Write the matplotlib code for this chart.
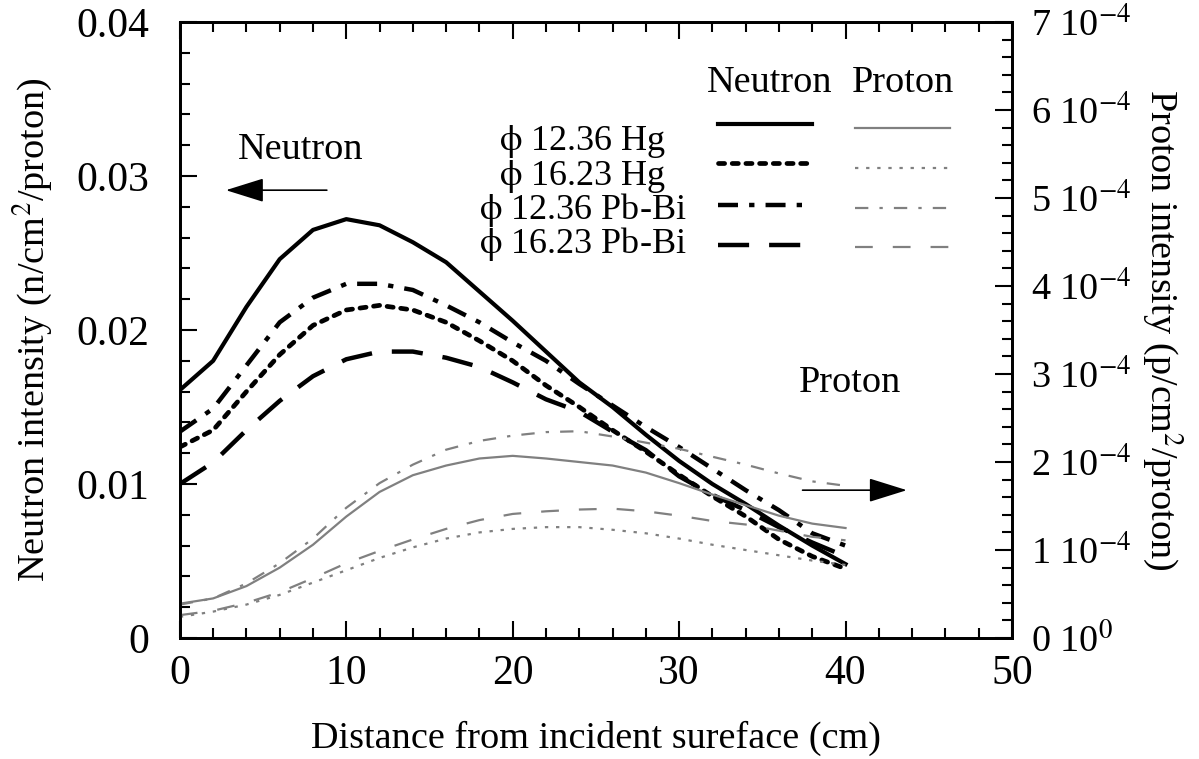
import numpy as np
import matplotlib.pyplot as plt
from matplotlib.lines import Line2D
from matplotlib.ticker import MultipleLocator, FixedLocator

plt.rcParams['font.family'] = ['Liberation Serif', 'DejaVu Serif']
plt.rcParams['mathtext.fontset'] = 'stix'

# depth along the target (cm)
depth = [0, 2, 4, 6, 8, 10, 12, 14, 16, 18, 20, 22, 24, 26, 28, 30, 32, 34, 36, 38, 40]

# neutron intensity (n/cm2/proton)
n_hg_1236 = [0.0161, 0.0180, 0.0215, 0.0246, 0.0265, 0.0272, 0.0268, 0.0257, 0.0244, 0.0225,
             0.0206, 0.0186, 0.0166, 0.0150, 0.0132, 0.0115, 0.0100, 0.0087, 0.0073, 0.0060, 0.0048]
n_hg_1623 = [0.0124, 0.0135, 0.0160, 0.0184, 0.0203, 0.0213, 0.0216, 0.0213, 0.0205, 0.0193,
             0.0180, 0.0164, 0.0150, 0.0135, 0.0121, 0.0106, 0.0092, 0.0079, 0.0064, 0.0053, 0.0045]
n_pbbi_1236 = [0.0134, 0.0149, 0.0177, 0.0205, 0.0221, 0.0230, 0.0230, 0.0226, 0.0216, 0.0205,
               0.0192, 0.0180, 0.0165, 0.0151, 0.0137, 0.0124, 0.0110, 0.0096, 0.0083, 0.0068, 0.0060]
n_pbbi_1623 = [0.0100, 0.0114, 0.0135, 0.0154, 0.0170, 0.0181, 0.0186, 0.0186, 0.0182, 0.0176,
               0.0166, 0.0155, 0.0147, 0.0134, 0.0122, 0.0105, 0.0093, 0.0083, 0.0072, 0.0062, 0.0053]

# proton intensity (1e-4 p/cm2/proton)
p_hg_1236 = [0.39, 0.45, 0.59, 0.80, 1.06, 1.38, 1.66, 1.85, 1.96, 2.04,
             2.07, 2.04, 2.00, 1.96, 1.88, 1.76, 1.63, 1.51, 1.39, 1.30, 1.25]
p_hg_1623 = [0.24, 0.30, 0.38, 0.49, 0.63, 0.77, 0.91, 1.03, 1.13, 1.20,
             1.24, 1.26, 1.26, 1.23, 1.19, 1.13, 1.06, 1.00, 0.94, 0.88, 0.83]
p_pbbi_1236 = [0.38, 0.45, 0.62, 0.85, 1.13, 1.48, 1.76, 1.97, 2.14, 2.24,
               2.30, 2.34, 2.35, 2.29, 2.22, 2.15, 2.06, 1.97, 1.87, 1.78, 1.73]
p_pbbi_1623 = [0.26, 0.31, 0.40, 0.52, 0.68, 0.85, 0.99, 1.12, 1.24, 1.34,
               1.41, 1.44, 1.46, 1.47, 1.44, 1.39, 1.33, 1.29, 1.22, 1.15, 1.11]

labels = ['$\\mathrm{\\phi}$ 12.36 Hg', '$\\mathrm{\\phi}$ 16.23 Hg',
          '$\\mathrm{\\phi}$ 12.36 Pb-Bi', '$\\mathrm{\\phi}$ 16.23 Pb-Bi']
left_ticks = [0, 0.01, 0.02, 0.03, 0.04]
left_tick_labels = ['0', '0.01', '0.02', '0.03', '0.04']
right_tick_labels = ['0 10$^{0}$'] + ['%d 10$^{-4}$' % i for i in range(1, 8)]

n_styles = [dict(ls='-', lw=3.0),
            dict(ls=(0, (1.3, 1.6)), lw=3.4, dash_capstyle='round'),
            dict(ls=(0, (4.5, 2.5, 1.2, 2.5)), lw=3.2),
            dict(ls=(0, (7, 4.5)), lw=3.2)]
p_styles = [dict(ls='-', lw=1.6),
            dict(ls=(0, (1.5, 3.5)), lw=1.6),
            dict(ls=(0, (6, 5, 1.5, 5)), lw=1.6),
            dict(ls=(0, (8, 9)), lw=1.6)]
p_color = '0.5'
fs = 27.5

fig = plt.figure(figsize=(11.99, 7.59), dpi=100)
ax = fig.add_axes([0.150, 0.1594, 0.694, 0.8116])
ax2 = ax.twinx()

neutrons = [n_hg_1236, n_hg_1623, n_pbbi_1236, n_pbbi_1623]
protons = [p_hg_1236, p_hg_1623, p_pbbi_1236, p_pbbi_1623]
for ys, st in zip(neutrons, n_styles):
    ax.plot(depth, ys, color='black', **st)
for ys, st in zip(protons, p_styles):
    ax2.plot(depth, np.array(ys) * 1e-4, color=p_color, **st)

ax.set_xlim(0, 50)
ax.set_ylim(0, 0.04)
ax2.set_ylim(0, 7e-4)

ax.xaxis.set_major_locator(MultipleLocator(10))
ax.xaxis.set_minor_locator(MultipleLocator(2))
ax.yaxis.set_major_locator(FixedLocator(left_ticks))
ax.yaxis.set_minor_locator(MultipleLocator(0.002))
ax.set_yticklabels(left_tick_labels)
ax2.yaxis.set_major_locator(FixedLocator([i * 1e-4 for i in range(8)]))
ax2.yaxis.set_minor_locator(MultipleLocator(0.2e-4))
ax2.set_yticklabels(right_tick_labels)

ax.tick_params(which='both', direction='in', top=True, right=False, width=1.5)
ax.tick_params(axis='y', labelsize=30, pad=22)
ax.tick_params(axis='x', labelsize=30, pad=12)
ax.tick_params(which='major', length=12)
ax.tick_params(which='minor', length=7)
ax2.tick_params(which='both', direction='in', labelsize=fs, width=1.5, pad=14)
ax2.tick_params(which='major', length=12)
ax2.tick_params(which='minor', length=7)
for a in (ax, ax2):
    for s in a.spines.values():
        s.set_linewidth(2.0)

ax.set_xlabel('Distance from incident sureface (cm)', fontsize=fs, labelpad=20)
ax.set_ylabel('Neutron intensity (n/cm$^2$/proton)', fontsize=fs, labelpad=16)
ax2.set_ylabel('Proton intensity (p/cm$^2$/proton)', fontsize=fs, rotation=270, labelpad=38)

# side annotations
ax.text(0.145, 0.792, 'Neutron', transform=ax.transAxes, fontsize=fs, ha='center', va='center')
ax.annotate('', xy=(0.052, 0.727), xytext=(0.18, 0.727), xycoords='axes fraction',
            arrowprops=dict(arrowstyle='-|>,head_length=0.8,head_width=0.25', color='black',
                            lw=1.2, mutation_scale=30))
ax.text(0.805, 0.414, 'Proton', transform=ax.transAxes, fontsize=fs, ha='center', va='center')
ax.annotate('', xy=(0.877, 0.24), xytext=(0.745, 0.24), xycoords='axes fraction',
            arrowprops=dict(arrowstyle='-|>,head_length=0.8,head_width=0.25', color='black',
                            lw=1.2, mutation_scale=30))

# key with neutron and proton columns
ax.text(0.709, 0.901, 'Neutron', transform=ax.transAxes, fontsize=fs, ha='center', va='center')
ax.text(0.869, 0.901, 'Proton', transform=ax.transAxes, fontsize=fs, ha='center', va='center')
row_txt = [0.806, 0.749, 0.695, 0.640]
row_n = [0.834, 0.771, 0.703, 0.638]
row_p = [0.828, 0.763, 0.698, 0.635]
for lab, yt, yn, yp, ns, ps in zip(labels, row_txt, row_n, row_p, n_styles, p_styles):
    ax.text(0.484, yt, lab, transform=ax.transAxes, fontsize=26, ha='center', va='center')
    ax.add_line(Line2D([0.647, 0.760], [yn, yn], transform=ax.transAxes, color='black', **ns))
    ax.add_line(Line2D([0.811, 0.925], [yp, yp], transform=ax.transAxes, color=p_color, **ps))

fig.savefig('out.png', dpi=100)
